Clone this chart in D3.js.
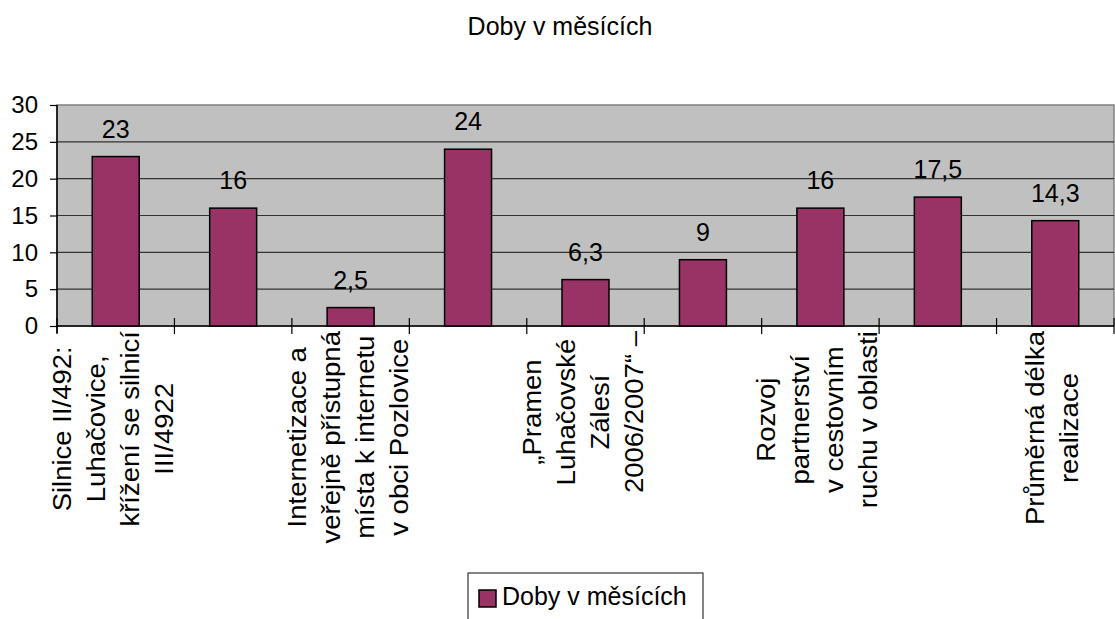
<!DOCTYPE html>
<html>
<head>
<meta charset="utf-8">
<script src="https://cdn.jsdelivr.net/npm/d3@7"></script>
<style>
  body { margin: 0; background: #fff; }
  text { font-family: "Liberation Sans", Arial, sans-serif; fill: #000; }
</style>
</head>
<body>
<script>
// Data
var title = "Doby v měsících"
var seriesName = "Doby v měsících"
var values = [23, 16, 2.5, 24, 6.3, 9, 16, 17.5, 14.3]
var categories = [
  ["Silnice II/492:", "Luhačovice,", "křížení se silnicí", "III/4922"],
  [],
  ["Internetizace a", "veřejně přístupná", "místa k internetu", "v obci Pozlovice"],
  [],
  ["„Pramen", "Luhačovské", "Zálesí", "2006/2007“ –"],
  [],
  ["Rozvoj", "partnerství", "v cestovním", "ruchu v oblasti"],
  [],
  ["Průměrná délka", "realizace"]
]
var yTicks = [0, 5, 10, 15, 20, 25, 30]

// Plot area
var plotLeft = 57, plotRight = 1114, plotTop = 105, plotBottom = 326
var barColor = "#993366"

var svg = d3.select("body").append("svg")
    .attr("width", 1115)
    .attr("height", 619)

// Scales
var x = d3.scaleBand()
    .domain(d3.range(values.length))
    .range([plotLeft, plotRight])

var y = d3.scaleLinear()
    .domain([0, 30])
    .range([plotBottom, plotTop])

// Title
svg.append("text")
   .attr("x", 560)
   .attr("y", 35)
   .attr("text-anchor", "middle")
   .style("font-size", "25px")
   .text(title)

// Background of plot
svg.append("rect")
   .attr("x", plotLeft)
   .attr("y", plotTop)
   .attr("width", plotRight - plotLeft)
   .attr("height", plotBottom - plotTop)
   .attr("fill", "#c0c0c0")
   .attr("stroke", "#808080")
   .attr("stroke-width", 1.5)

// Gridlines
svg.selectAll(".grid")
   .data(yTicks.filter(function(d) { return d > 0 && d < 30 }))
   .enter().append("line")
   .attr("x1", plotLeft)
   .attr("x2", plotRight)
   .attr("y1", function(d) { return y(d) })
   .attr("y2", function(d) { return y(d) })
   .attr("stroke", "#333")
   .attr("stroke-width", 1.2)

// Y axis
var yAxis = d3.axisLeft(y)
    .tickValues(yTicks)
    .tickSize(7)
    .tickPadding(12)
    .tickFormat(d3.format("d"))

var gy = svg.append("g")
   .attr("transform", "translate(" + plotLeft + ",0)")
   .call(yAxis)
gy.select(".domain").attr("stroke", "#000").attr("stroke-width", 1.5)
  .attr("d", "M0," + plotTop + "V" + (plotBottom + 7))
gy.selectAll(".tick line").attr("stroke", "#000").attr("stroke-width", 1.2)
gy.selectAll(".tick text")
  .style("font-size", "24px")
  .style("font-family", "Liberation Sans, Arial, sans-serif")
  .attr("fill", "#000")

// X axis line
svg.append("line")
   .attr("x1", plotLeft)
   .attr("x2", plotRight)
   .attr("y1", plotBottom)
   .attr("y2", plotBottom)
   .attr("stroke", "#000")
   .attr("stroke-width", 1.5)

// Category tick marks (crossing the axis)
svg.selectAll(".ctick")
   .data(d3.range(values.length + 1))
   .enter().append("line")
   .attr("x1", function(i) { return plotLeft + i * x.bandwidth() })
   .attr("x2", function(i) { return plotLeft + i * x.bandwidth() })
   .attr("y1", plotBottom - 8)
   .attr("y2", plotBottom + 8)
   .attr("stroke", "#000")
   .attr("stroke-width", 1.2)

// Bars
var barW = x.bandwidth() / 2.5
svg.selectAll(".bar")
   .data(values)
   .enter().append("rect")
   .attr("x", function(d, i) { return x(i) + (x.bandwidth() - barW) / 2 })
   .attr("y", function(d) { return y(d) })
   .attr("width", barW)
   .attr("height", function(d) { return plotBottom - y(d) })
   .attr("fill", barColor)
   .attr("stroke", "#000")
   .attr("stroke-width", 1.5)

// Value labels
svg.selectAll(".val")
   .data(values)
   .enter().append("text")
   .attr("x", function(d, i) { return x(i) + x.bandwidth() / 2 })
   .attr("y", function(d) { return y(d) - 19 })
   .attr("text-anchor", "middle")
   .style("font-size", "25px")
   .text(function(d) { return String(d).replace(".", ",") })

// Rotated category labels
var lineGap = 34
categories.forEach(function(lines, i) {
  if (lines.length == 0) return
  var cx = x(i) + x.bandwidth() / 2
  var g = svg.append("g")
  var texts = g.selectAll("text")
     .data(lines)
     .enter().append("text")
     .attr("text-anchor", "middle")
     .style("font-size", "25px")
     .text(function(d) { return d })
  var maxLen = 0
  texts.each(function() { maxLen = Math.max(maxLen, this.getComputedTextLength() * 1.1) })
  var cy = 331 + maxLen / 2
  texts.attr("transform", function(d, j) {
    var bx = cx + 6 + (j - (lines.length - 1) / 2) * lineGap
    return "translate(" + bx + "," + cy + ") rotate(-90) scale(1.1,1)"
  })
})

// Legend
svg.append("rect")
   .attr("x", 468)
   .attr("y", 573)
   .attr("width", 235)
   .attr("height", 50)
   .attr("fill", "#fff")
   .attr("stroke", "#333")
   .attr("stroke-width", 1.2)

svg.append("rect")
   .attr("x", 479)
   .attr("y", 590)
   .attr("width", 17)
   .attr("height", 17)
   .attr("fill", barColor)
   .attr("stroke", "#000")
   .attr("stroke-width", 1.5)

svg.append("text")
   .attr("x", 502)
   .attr("y", 605)
   .style("font-size", "25px")
   .text(seriesName)
</script>
</body>
</html>
